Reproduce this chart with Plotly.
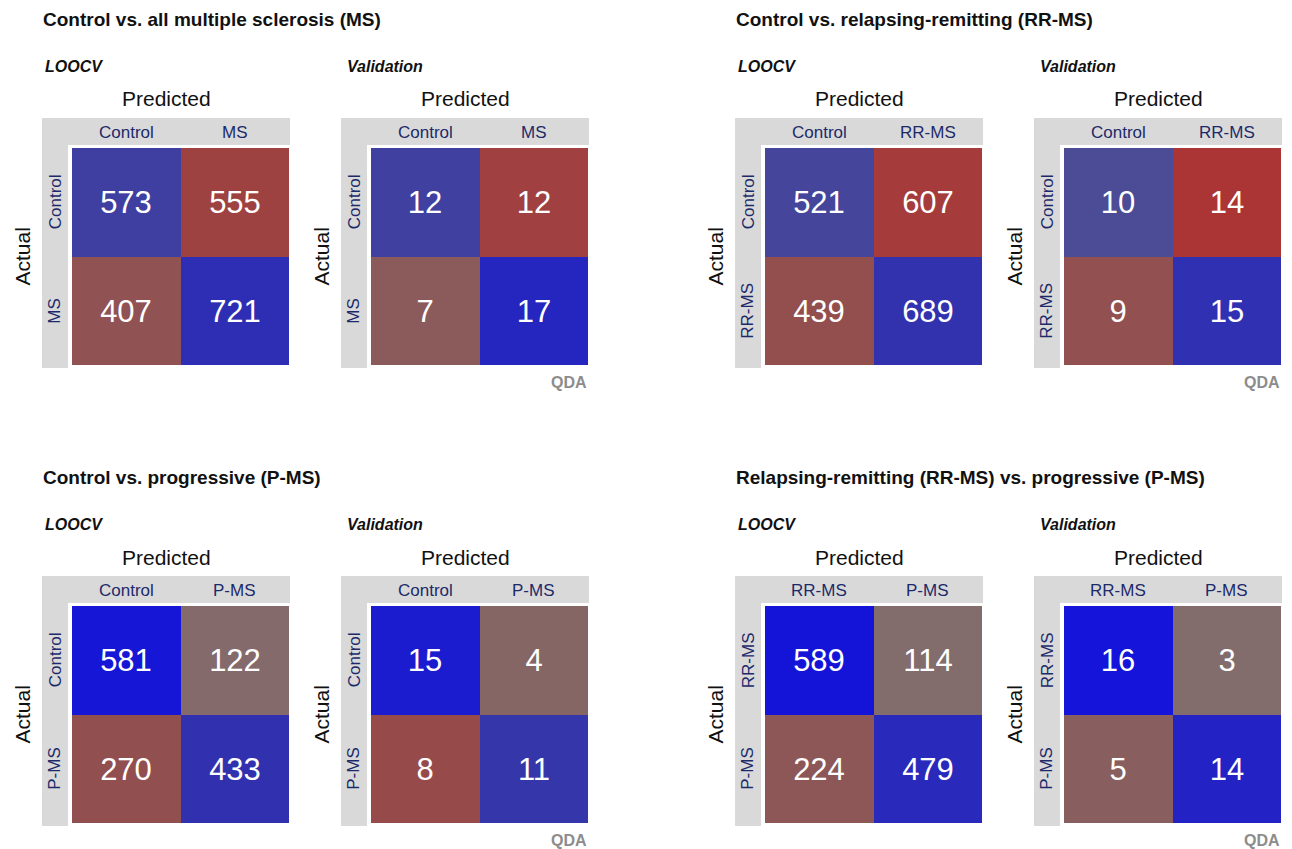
import plotly.graph_objects as go

W, H = 1292, 849

# ---- data -------------------------------------------------------------
section_titles = [
    "Control vs. all multiple sclerosis (MS)",
    "Control vs. relapsing-remitting (RR-MS)",
    "Control vs. progressive (P-MS)",
    "Relapsing-remitting (RR-MS) vs. progressive (P-MS)",
]
class_labels = [
    ["Control", "MS"],
    ["Control", "RR-MS"],
    ["Control", "P-MS"],
    ["RR-MS", "P-MS"],
]
# rows = actual, columns = predicted
loocv_counts = [
    [[573, 555], [407, 721]],
    [[521, 607], [439, 689]],
    [[581, 122], [270, 433]],
    [[589, 114], [224, 479]],
]
validation_counts = [
    [[12, 12], [7, 17]],
    [[10, 14], [9, 15]],
    [[15, 4], [8, 11]],
    [[16, 3], [5, 14]],
]
panel_names = ["LOOCV", "Validation"]
model_name = "QDA"

# ---- styling ----------------------------------------------------------
FONT = "Liberation Sans, Arial, Helvetica, sans-serif"
NAVY = "#1c2a6a"
STRIP = "#d9d9d9"
INK = "#111111"


def cell_rgb(s):
    """s in [-1, 1]: positive -> correct (blue), negative -> error (red)."""
    t = abs(s)
    main = round(128 + 127 * t * t)
    other = round(128 * (1 - t))
    if s >= 0:
        return f"rgb({other},{other},{main})"
    return f"rgb({main},{other},{other})"


n_stops = 201
colorscale = [[i / (n_stops - 1), cell_rgb(-1 + 2 * i / (n_stops - 1))] for i in range(n_stops)]


def px(x):
    return x / W


def py(y):
    return 1 - y / H


fig = go.Figure()
shapes, annotations = [], []

section_origin = [(0, 0), (693, 0), (0, 458), (693, 458)]
panel_dx = [0, 299]
CELL = 217

k = 0
for s, (ox, oy) in enumerate(section_origin):
    annotations.append(dict(
        text=f"<b>{section_titles[s]}</b>", x=px(ox + 41), y=py(oy + 19),
        xref="paper", yref="paper", xanchor="left", yanchor="middle",
        showarrow=False, font=dict(family=FONT, size=19, color=INK)))
    labels = class_labels[s]
    for p, counts in enumerate([loocv_counts[s], validation_counts[s]]):
        k += 1
        bx = ox + panel_dx[p]
        gl, gr = bx + 42, bx + 290
        cl, cr = bx + 72, bx + 72 + CELL
        gt, cb = oy + 118, oy + 148 + CELL
        ct = oy + 148

        # grey label strips (top and left)
        shapes.append(dict(type="rect", xref="paper", yref="paper", layer="below",
                           x0=px(gl), x1=px(gr), y0=py(oy + 145), y1=py(gt),
                           fillcolor=STRIP, line_width=0))
        shapes.append(dict(type="rect", xref="paper", yref="paper", layer="below",
                           x0=px(gl), x1=px(bx + 68), y0=py(oy + 368), y1=py(gt),
                           fillcolor=STRIP, line_width=0))

        z, text = [], []
        for i in range(2):
            tot = sum(counts[i])
            zr, tr = [], []
            for j in range(2):
                frac = counts[i][j] / tot
                zr.append(frac if i == j else -frac)
                tr.append(str(counts[i][j]))
            z.append(zr)
            text.append(tr)

        xa, ya = f"x{k}" if k > 1 else "x", f"y{k}" if k > 1 else "y"
        fig.add_trace(go.Heatmap(
            z=z, x=[0, 1], y=[0, 1], text=text, texttemplate="%{text}",
            textfont=dict(family=FONT, size=31, color="white"),
            colorscale=colorscale, zmin=-1, zmax=1, showscale=False,
            hoverinfo="skip", xaxis=xa, yaxis=ya))

        axx = dict(domain=[px(cl), px(cr)], range=[-0.5, 1.5], visible=False,
                   fixedrange=True)
        axy = dict(domain=[py(cb), py(ct)], range=[1.5, -0.5], visible=False,
                   fixedrange=True)
        if k == 1:
            axx["anchor"] = "y"
            axy["anchor"] = "x"
            fig.update_layout(xaxis=axx, yaxis=axy)
        else:
            axx["anchor"] = ya
            axy["anchor"] = xa
            fig.update_layout(**{f"xaxis{k}": axx, f"yaxis{k}": axy})

        # panel captions
        annotations.append(dict(
            text=f"<b><i>{panel_names[p]}</i></b>", x=px(bx + 42 + (1 if p == 0 else 4)),
            y=py(oy + 66), xref="paper", yref="paper", xanchor="left", yanchor="middle",
            showarrow=False, font=dict(family=FONT, size=16, color=INK)))
        annotations.append(dict(
            text="Predicted", x=px((gl + gr) / 2), y=py(oy + 99), xref="paper", yref="paper",
            xanchor="center", yanchor="middle", showarrow=False,
            font=dict(family=FONT, size=21, color=INK)))
        annotations.append(dict(
            text="Actual", x=px(bx + 22), y=py((ct + cb) / 2), xref="paper", yref="paper",
            xanchor="center", yanchor="middle", textangle=-90, showarrow=False,
            font=dict(family=FONT, size=21, color=INK)))
        for j in range(2):
            annotations.append(dict(
                text=labels[j], x=j, xref=xa, y=py(oy + 132), yref="paper",
                xanchor="center", yanchor="middle", showarrow=False,
                font=dict(family=FONT, size=17, color=NAVY)))
            annotations.append(dict(
                text=labels[j], y=j, yref=ya, x=px(bx + 55), xref="paper",
                xanchor="center", yanchor="middle", textangle=-90, showarrow=False,
                font=dict(family=FONT, size=17, color=NAVY)))
        if p == 1:
            annotations.append(dict(
                text=f"<b>{model_name}</b>", x=px(bx + 290), y=py(oy + 382),
                xref="paper", yref="paper", xanchor="right", yanchor="middle",
                showarrow=False, font=dict(family=FONT, size=16, color="#8c8c8c")))

fig.update_layout(
    width=W, height=H, margin=dict(l=0, r=0, t=0, b=0),
    paper_bgcolor="white", plot_bgcolor="white",
    shapes=shapes, annotations=annotations, showlegend=False,
)

fig.write_html("out.html", config={"displayModeBar": False})
